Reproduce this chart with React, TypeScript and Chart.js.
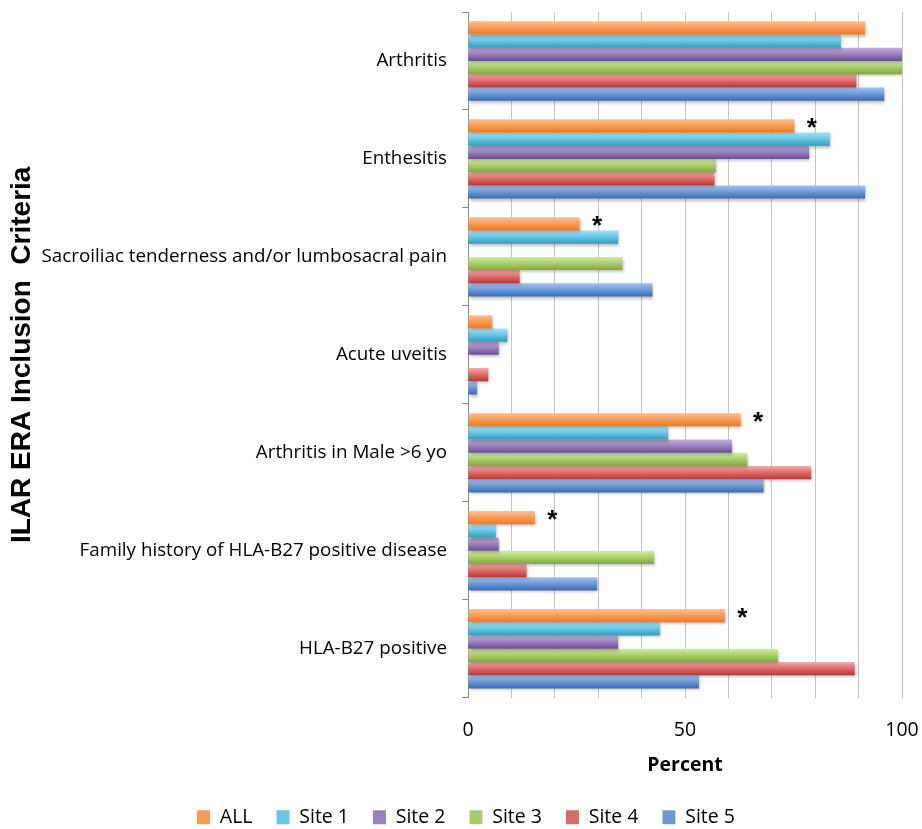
import React, { useEffect, useRef } from "react";
import { Chart, registerables } from "chart.js";

Chart.register(...registerables);

const categories = [
  "Arthritis",
  "Enthesitis",
  "Sacroiliac tenderness and/or lumbosacral pain",
  "Acute uveitis",
  "Arthritis in Male >6 yo",
  "Family history of HLA-B27 positive disease",
  "HLA-B27 positive",
];

const seriesNames = ["ALL", "Site 1", "Site 2", "Site 3", "Site 4", "Site 5"];

const allValues = [91.5, 75.2, 25.7, 5.6, 62.8, 15.4, 59.2];
const site1Values = [85.9, 83.4, 34.6, 9.1, 46.1, 6.4, 44.2];
const site2Values = [100, 78.6, 0, 7.1, 60.8, 7.1, 34.6];
const site3Values = [100, 57.1, 35.6, 0, 64.4, 42.9, 71.4];
const site4Values = [89.5, 56.8, 11.9, 4.7, 79.1, 13.5, 89.1];
const site5Values = [95.9, 91.5, 42.5, 2.1, 68.1, 29.8, 53.2];

// asterisk marks next to the ALL bar
const starFlags = [false, true, true, false, true, true, true];

const xTickLabels = [0, 50, 100];

// [light, mid, dark]
const seriesColors = [
  ["#FDC096", "#F89A53", "#EE7A1E"],
  ["#A2E2F8", "#66C6E6", "#2F9DBA"],
  ["#C3AEDD", "#9A80BE", "#6A4C92"],
  ["#D2EDA4", "#AACD6C", "#82A83D"],
  ["#F5ABA9", "#DC6B68", "#B83835"],
  ["#A3C2F2", "#6C98D8", "#3A6AAE"],
];

const seriesValues = [allValues, site1Values, site2Values, site3Values, site4Values, site5Values];

const LEFT_PAD = 30;

export default function App() {
  const canvasRef = useRef<HTMLCanvasElement | null>(null);

  useEffect(() => {
    const canvas = canvasRef.current;
    if (!canvas) return;

    const gradientPlugin = {
      id: "barGradient",
      beforeDatasetDraw(chart: any, args: any) {
        const ctx = chart.ctx;
        const [light, mid, dark] = seriesColors[args.index];
        args.meta.data.forEach((el: any) => {
          const { y, height } = el.getProps(["y", "height"], true);
          const g = ctx.createLinearGradient(0, y - height / 2, 0, y + height / 2);
          g.addColorStop(0, light);
          g.addColorStop(0.5, mid);
          g.addColorStop(1, dark);
          if (el.options) el.options.backgroundColor = g;
        });
        ctx.save();
        ctx.shadowColor = "rgba(0,0,0,0.28)";
        ctx.shadowBlur = 3;
        ctx.shadowOffsetX = 1;
        ctx.shadowOffsetY = 2;
      },
      afterDatasetDraw(chart: any) {
        chart.ctx.restore();
      },
    };

    const starPlugin = {
      id: "stars",
      afterDatasetsDraw(chart: any) {
        const ctx = chart.ctx;
        const meta = chart.getDatasetMeta(0);
        ctx.save();
        ctx.fillStyle = "#000";
        ctx.font = "bold 26px 'Liberation Sans', Arial, sans-serif";
        ctx.textAlign = "center";
        ctx.textBaseline = "alphabetic";
        starFlags.forEach((flag, i) => {
          if (!flag) return;
          const el = meta.data[i];
          if (!el) return;
          ctx.fillText("*", el.x + 17.5, el.y + 10);
        });
        ctx.restore();
      },
    };

    const chart = new Chart(canvas, {
      type: "bar",
      data: {
        labels: categories,
        datasets: seriesNames.map((name, i) => ({
          label: name,
          data: seriesValues[i],
          backgroundColor: () => seriesColors[i][1],
          borderWidth: 0,
          categoryPercentage: 0.81,
          barPercentage: 1.0,
        })),
      },
      options: {
        indexAxis: "y",
        animation: false,
        responsive: true,
        maintainAspectRatio: false,
        layout: { padding: { top: 12, right: 20, bottom: -8, left: LEFT_PAD } },
        font: { family: "'Open Sans', sans-serif" },
        plugins: {
          tooltip: { enabled: false },
          legend: {
            position: "bottom",
            labels: {
              boxWidth: 13,
              boxHeight: 14,
              padding: 24,
              color: "#000",
              font: { family: "'Open Sans', sans-serif", size: 19.5 },
            },
          },
        },
        scales: {
          x: {
            min: 0,
            max: 100,
            border: { display: false },
            grid: {
              color: "#C4C4C4",
              lineWidth: 1,
              drawTicks: false,
            },
            ticks: {
              stepSize: 10,
              padding: 21,
              color: "#000",
              font: { family: "'Open Sans', sans-serif", size: 19.5 },
              callback: (v: any) => (xTickLabels.includes(Number(v)) ? String(v) : ""),
              maxRotation: 0,
              autoSkip: false,
            },
            title: {
              display: true,
              text: "Percent",
              color: "#000",
              font: { family: "'Open Sans', sans-serif", size: 19.5, weight: "bold" },
              padding: { top: -9, bottom: 6 },
            },
            afterFit: (scale: any) => {
              scale.paddingLeft = 0;
              scale.paddingRight = 0;
            },
          },
          y: {
            border: { display: true, color: "#8C8C8C", width: 1 },
            grid: {
              offset: true,
              drawOnChartArea: false,
              drawTicks: true,
              tickLength: 6,
              color: "#8C8C8C",
            },
            ticks: {
              padding: 15,
              color: "#000",
              font: { family: "'Open Sans', sans-serif", size: 18.8 },
              autoSkip: false,
            },
            title: {
              display: true,
              text: "ILAR ERA Inclusion  Criteria",
              color: "#000",
              font: { family: "'Liberation Sans', Arial, sans-serif", size: 28, weight: "bold" },
              padding: { top: 22 - LEFT_PAD - 16.8, bottom: 0 },
            },
            afterFit: (scale: any) => {
              scale.width = 468 - LEFT_PAD;
              scale.paddingTop = 0;
              scale.paddingBottom = 0;
            },
          },
        },
      },
      plugins: [gradientPlugin, starPlugin],
    } as any);

    return () => {
      chart.destroy();
    };
  }, []);

  return (
    <div style={{ position: "absolute", left: 0, top: 0, width: 922, height: 829, background: "#fff" }}>
      <canvas ref={canvasRef} />
    </div>
  );
}
